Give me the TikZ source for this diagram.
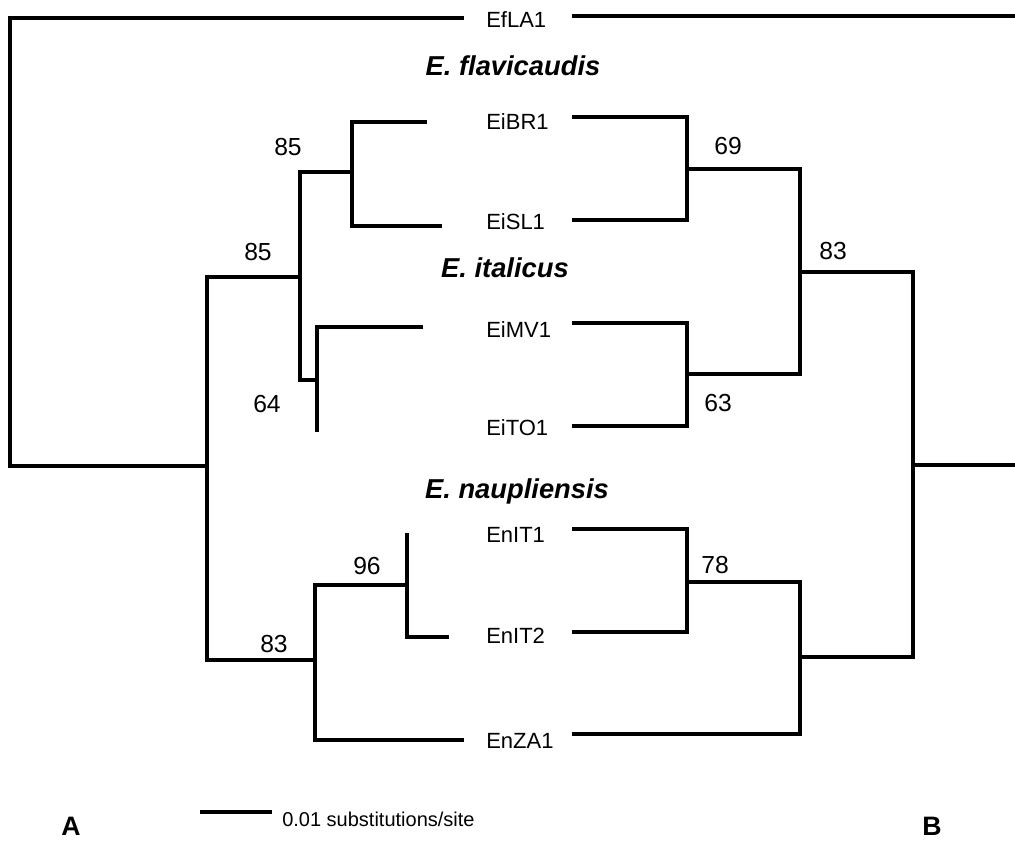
\documentclass[tikz,border=0pt]{standalone}
\usepackage{fontspec}
\setmainfont{Liberation Sans}
\usetikzlibrary{positioning, calc}
\tikzset{
    branch/.style={line width=2.4pt, line join=miter},
    taxon/.style={anchor=base west, inner sep=0pt, font=\fontsize{16.5}{18}\selectfont},
    support/.style={anchor=base, inner sep=0pt, font=\fontsize{18.5}{20}\selectfont},
    species/.style={anchor=base, inner sep=0pt, font=\fontsize{20.5}{22}\selectfont\bfseries\itshape},
    panel/.style={anchor=base, inner sep=0pt, font=\fontsize{20}{22}\selectfont\bfseries}
}

\begin{document}
\begin{tikzpicture}[x=0.75pt, y=-0.75pt]
    \useasboundingbox (0,0) rectangle (1015,840);

    % taxa in the middle
    \node[taxon] (EfLA1) at (486,27) {EfLA1};
    \node[taxon] (EiBR1) at (486,129) {EiBR1};
    \node[taxon] (EiSL1) at (486,229) {EiSL1};
    \node[taxon] (EiMV1) at (486,337) {EiMV1};
    \node[taxon] (EiTO1) at (486,435) {EiTO1};
    \node[taxon] (EnIT1) at (486,542) {EnIT1};
    \node[taxon] (EnIT2) at (486,643) {EnIT2};
    \node[taxon] (EnZA1) at (486,748) {EnZA1};

    \node[species] (flav) at (513,75) {E. flavicaudis};
    \node[species] (ital) at (505,277) {E. italicus};
    \node[species] (naup) at (517,498) {E. naupliensis};

    % tree A (left)
    \coordinate (lEfLA1) at (464,18);
    \coordinate (lEiBR1) at (427,122);
    \coordinate (lEiSL1) at (442,226);
    \coordinate (lEiMV1) at (423,327);
    \coordinate (lEiTO1) at (317,432);
    \coordinate (lEnIT1) at (407,533);
    \coordinate (lEnIT2) at (449,637);
    \coordinate (lEnZA1) at (464,740);
    \coordinate (a0) at (10,466);
    \coordinate (a1) at (207,466);
    \coordinate (a2) at (300,277);
    \coordinate (a3) at (352,172);
    \coordinate (a4) at (317,380);
    \coordinate (a5) at (315,660);
    \coordinate (a6) at (407,585);

    \draw[branch] (lEfLA1) -| (a0) -- (a1);
    \draw[branch] (a2) -| (a1) |- (a5);
    \draw[branch] (a3) -| (a2) |- (a4);
    \draw[branch] (lEiBR1) -| (a3) |- (lEiSL1);
    \draw[branch] (lEiMV1) -| (a4) -- (lEiTO1);
    \draw[branch] (a6) -| (a5) |- (lEnZA1);
    \draw[branch] (lEnIT1) -- (a6) |- (lEnIT2);

    \node[support] (sa3) at (288,155) {85};
    \node[support] (sa2) at (258,260) {85};
    \node[support] (sa4) at (267,412) {64};
    \node[support] (sa6) at (367,574) {96};
    \node[support] (sa5) at (274,652) {83};

    % tree B (right)
    \coordinate (rEfLA1) at (572,16);
    \coordinate (rEiBR1) at (572,117);
    \coordinate (rEiSL1) at (572,220);
    \coordinate (rEiMV1) at (572,323);
    \coordinate (rEiTO1) at (572,426);
    \coordinate (rEnIT1) at (572,529);
    \coordinate (rEnIT2) at (572,632);
    \coordinate (rEnZA1) at (572,734);
    \coordinate (bEfLA1) at (1015,16);
    \coordinate (b0) at (1015,465);
    \coordinate (b1) at (913,465);
    \coordinate (b2) at (800,272);
    \coordinate (b3) at (687,169);
    \coordinate (b4) at (687,374);
    \coordinate (b5) at (800,657);
    \coordinate (b6) at (687,582);

    \draw[branch] (rEfLA1) -- (bEfLA1);
    \draw[branch] (b0) -- (b1);
    \draw[branch] (b2) -| (b1) |- (b5);
    \draw[branch] (b3) -| (b2) |- (b4);
    \draw[branch] (rEiBR1) -| (b3) |- (rEiSL1);
    \draw[branch] (rEiMV1) -| (b4) |- (rEiTO1);
    \draw[branch] (b6) -| (b5) |- (rEnZA1);
    \draw[branch] (rEnIT1) -| (b6) |- (rEnIT2);

    \node[support] (sb3) at (728,154) {69};
    \node[support] (sb2) at (833,259) {83};
    \node[support] (sb4) at (718,411) {63};
    \node[support] (sb6) at (715,573) {78};

    % scale bar and panel letters
    \coordinate (bar0) at (200,812);
    \coordinate (bar1) at (272,812);
    \draw[line width=2.8pt] (bar0) -- (bar1);
    \node[anchor=base west, inner sep=0pt, font=\fontsize{15}{17}\selectfont] (barlabel) at (282,826) {0.01 substitutions/site};

    \node[panel] (panelA) at (71,835) {A};
    \node[panel] (panelB) at (932,835) {B};
\end{tikzpicture}
\end{document}
